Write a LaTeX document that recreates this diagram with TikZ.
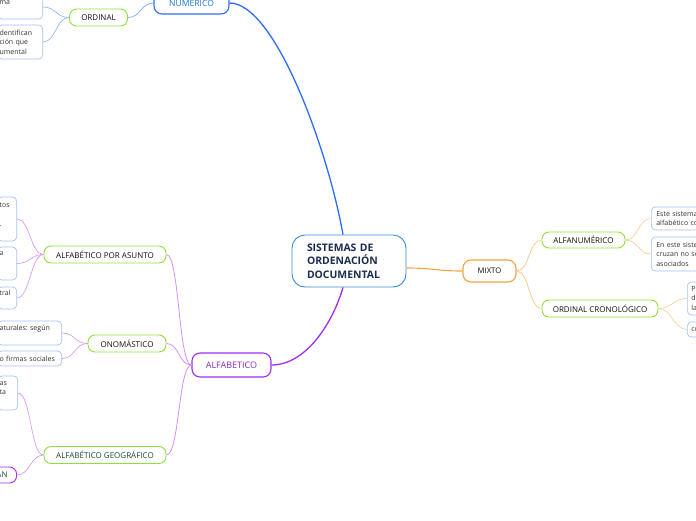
\documentclass[tikz,border=0pt]{standalone}
\usepackage{fontspec}
\setmainfont{Open Sans}
\usepackage{tikz}
\usetikzlibrary{positioning}
\usepackage{xcolor}
\frenchspacing
\definecolor{TitleNavy}{HTML}{1B2D4F}
\definecolor{TitleBlue}{HTML}{3A8BD6}
\definecolor{NumBlue}{HTML}{2F6CF2}
\definecolor{NumText}{HTML}{1C78C8}
\definecolor{LinkBlue}{HTML}{8FB0F5}
\definecolor{LeafBlue}{HTML}{A6C3F3}
\definecolor{LimeGreen}{HTML}{8EE03A}
\definecolor{AlfPurple}{HTML}{A22DF2}
\definecolor{AlfText}{HTML}{8A2BC4}
\definecolor{LtPurple}{HTML}{D591F8}
\definecolor{MixOrange}{HTML}{F5A23C}
\definecolor{LtOrange}{HTML}{FBCB8E}
\definecolor{GeoGreen}{HTML}{1C4A33}
\definecolor{SubText}{HTML}{111111}
\definecolor{LeafText}{HTML}{333333}

\begin{document}
\begin{tikzpicture}[
  x=1pt, y=-1pt,
  root/.style={draw=TitleBlue, line width=0.9pt, fill=white, rounded corners=13pt,
               minimum width=114pt, minimum height=52pt, text width=84pt, inner xsep=15pt,
               align=left, text=TitleNavy, font=\fontsize{10.4}{13.5}\selectfont\bfseries},
  topic/.style={line width=1.1pt, fill=white, rounded corners=8pt, minimum height=22pt, inner sep=0pt},
  sub/.style={draw=LimeGreen, line width=0.9pt, fill=white, rounded corners=7pt,
              minimum height=17pt, inner sep=0pt, text=SubText, font=\fontsize{8}{9}\selectfont},
  leaf/.style={draw=LeafBlue, line width=0.7pt, fill=white, rounded corners=4pt, inner ysep=0pt,
               align=left, text=LeafText, font=\fontsize{7}{9.5}\selectfont},
  lleaf/.style={leaf, anchor=east, inner xsep=2pt, text width=#1},
  rleaf/.style={leaf, anchor=west, inner xsep=5pt, text width=80pt}
]
  \useasboundingbox (0,0) rectangle (696,520);
  \clip (0,0) rectangle (696,520);
  \fill[white] (0,0) rectangle (696,520);

  \node[root] (central) at (349,261) {SISTEMAS DE\\ORDENACIÓN\\DOCUMENTAL};

  \node[topic, draw=NumBlue, text=NumText, minimum width=75pt, font=\fontsize{8.6}{10}\selectfont] (numerico) at (191.5,3) {NUMERICO};
  \node[topic, draw=AlfPurple, text=AlfText, minimum width=79pt, minimum height=24pt, font=\fontsize{9}{10}\selectfont] (alfabetico) at (231.5,365) {ALFABETICO};
  \node[topic, draw=MixOrange, text=SubText, minimum width=53pt, font=\fontsize{7.7}{9}\selectfont] (mixto) at (489.5,271) {MIXTO};

  \node[sub, minimum width=58pt] (ordinal) at (98.5,17.5) {ORDINAL};
  \node[sub, minimum width=122pt] (asunto) at (105,254.5) {ALFABÉTICO POR ASUNTO};
  \node[sub, minimum width=78pt] (onomastico) at (127,343.5) {ONOMÁSTICO};
  \node[sub, minimum width=122pt, text=GeoGreen] (geografico) at (105,455) {ALFABÉTICO GEOGRÁFICO};
  \node[sub, minimum width=83pt, minimum height=16pt] (alfanumerico) at (583.5,240) {ALFANUMÉRICO};
  \node[sub, minimum width=116pt] (cronologico) at (600,308.5) {ORDINAL CRONOLÓGICO};

  \node[lleaf=41pt, minimum height=24pt] (ord1) at (43,7) {ma\\~};
  \node[lleaf=41pt, minimum height=34pt] (ord2) at (43,42) {dentifican\\ción que\\umental};
  \node[lleaf=15pt, minimum height=44pt] (asu1) at (17,219) {tos\\~\\.\\~};
  \node[lleaf=15pt, minimum height=33pt] (asu2) at (17,263.5) {a\\~\\~};
  \node[lleaf=15pt, minimum height=22pt] (asu3) at (17,298) {tral\\~};
  \node[lleaf=60pt, minimum height=24pt] (ono1) at (62,333) {aturales: según\\~};
  \node[lleaf=60pt, minimum height=15pt] (ono2) at (62,358.5) {o firmas sociales};
  \node[lleaf=16pt, minimum height=34pt] (geo1) at (18,393) {as\\ta\\~};
  \node[sub, draw=AlfPurple, anchor=east, text=GeoGreen, text width=20pt, align=right,
        inner xsep=9pt, minimum height=16pt] (geo2) at (17,475) {AN};

  \node[rleaf, minimum height=23pt] (anum1) at (651,218.5) {Este sistema\\alfabético co};
  \node[rleaf, minimum height=34pt] (anum2) at (651,254) {En este siste\\cruzan no se\\asociados};
  \node[rleaf, minimum height=33pt, inner xsep=4pt] (cron1) at (687,298.5) {P\\d\\la};
  \node[rleaf, minimum height=15pt, inner xsep=4pt] (cron2) at (687,329.5) {co};

  \draw[NumBlue, line width=1.3pt] (numerico.east) .. controls (275,3) and (328,150) .. ([xshift=-6pt]central.north);
  \draw[AlfPurple, line width=1.3pt] ([xshift=-6pt]central.south) .. controls (332,325) and (305,365) .. (alfabetico.east);
  \draw[MixOrange, line width=1.1pt] ([yshift=-7pt]central.east) .. controls (435,268) and (435,271) .. (mixto.west);

  \draw[LinkBlue, line width=0.8pt] (numerico.west) .. controls +(-13,0) and +(13,0) .. (ordinal.east);
  \draw[LtPurple, line width=0.8pt] (alfabetico.west) .. controls +(-13,0) and +(13,0) .. (asunto.east);
  \draw[LtPurple, line width=0.8pt] (alfabetico.west) .. controls +(-13,0) and +(13,0) .. (onomastico.east);
  \draw[LtPurple, line width=0.8pt] (alfabetico.west) .. controls +(-13,0) and +(13,0) .. (geografico.east);
  \draw[LtOrange, line width=0.8pt] (mixto.east) .. controls +(13,0) and +(-13,0) .. (alfanumerico.west);
  \draw[LtOrange, line width=0.8pt] (mixto.east) .. controls +(13,0) and +(-13,0) .. (cronologico.west);

  \draw[LinkBlue, line width=0.6pt] (ordinal.west) .. controls +(-13,0) and +(13,0) .. (ord1.east);
  \draw[LinkBlue, line width=0.6pt] (ordinal.west) .. controls +(-13,0) and +(13,0) .. (ord2.east);
  \draw[LtPurple, line width=0.6pt] (asunto.west) .. controls +(-13,0) and +(13,0) .. (asu1.east);
  \draw[LtPurple, line width=0.6pt] (asunto.west) .. controls +(-13,0) and +(13,0) .. (asu2.east);
  \draw[LtPurple, line width=0.6pt] (asunto.west) .. controls +(-13,0) and +(13,0) .. (asu3.east);
  \draw[LtPurple, line width=0.6pt] (onomastico.west) .. controls +(-13,0) and +(13,0) .. (ono1.east);
  \draw[LtPurple, line width=0.6pt] (onomastico.west) .. controls +(-13,0) and +(13,0) .. (ono2.east);
  \draw[LtPurple, line width=0.6pt] (geografico.west) .. controls +(-13,0) and +(13,0) .. (geo1.east);
  \draw[LtPurple, line width=0.6pt] (geografico.west) .. controls +(-13,0) and +(13,0) .. (geo2.east);
  \draw[LtOrange, line width=0.6pt] (alfanumerico.east) .. controls +(13,0) and +(-13,0) .. (anum1.west);
  \draw[LtOrange, line width=0.6pt] (alfanumerico.east) .. controls +(13,0) and +(-13,0) .. (anum2.west);
  \draw[LtOrange, line width=0.6pt] (cronologico.east) .. controls +(13,0) and +(-13,0) .. (cron1.west);
  \draw[LtOrange, line width=0.6pt] (cronologico.east) .. controls +(13,0) and +(-13,0) .. (cron2.west);
\end{tikzpicture}
\end{document}
